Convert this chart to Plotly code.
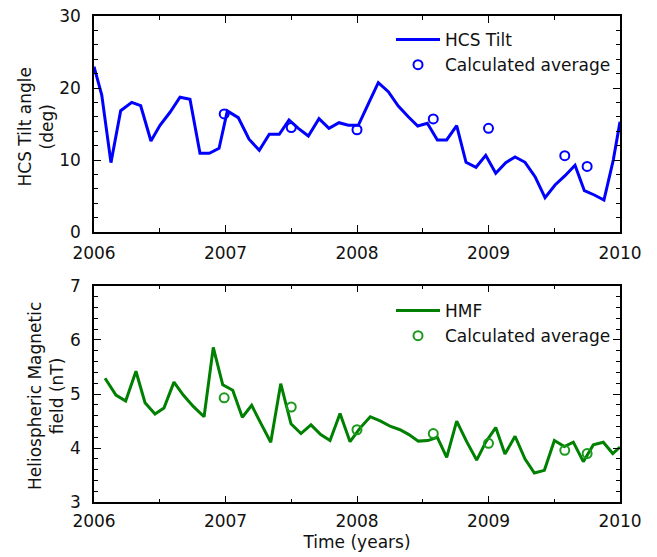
import plotly.graph_objects as go

# --- HCS tilt angle (deg), per solar rotation ---
tilt_years = [
    2006.000, 2006.059, 2006.129, 2006.203, 2006.287, 2006.355, 2006.433, 2006.502,
    2006.578, 2006.654, 2006.730, 2006.806, 2006.877, 2006.951, 2007.014, 2007.097,
    2007.179, 2007.257, 2007.333, 2007.409, 2007.483, 2007.554, 2007.630, 2007.711,
    2007.787, 2007.863, 2007.934, 2008.010, 2008.086, 2008.162, 2008.238, 2008.314,
    2008.390, 2008.462, 2008.535, 2008.611, 2008.682, 2008.758, 2008.829, 2008.905,
    2008.979, 2009.055, 2009.131, 2009.202, 2009.278, 2009.354, 2009.430, 2009.506,
    2009.582, 2009.658, 2009.729, 2009.805, 2009.878, 2009.949, 2010.000,
]
tilt_deg = [
    22.96, 19.03, 9.63, 16.85, 18.01, 17.54, 12.64, 14.82,
    16.63, 18.71, 18.43, 10.93, 10.93, 11.63, 16.81, 15.88,
    12.88, 11.35, 13.57, 13.57, 15.56, 14.40, 13.33, 15.74,
    14.40, 15.18, 14.82, 14.82, 17.78, 20.74, 19.49, 17.50,
    16.01, 14.72, 15.10, 12.78, 12.78, 14.76, 9.68, 8.99,
    10.65, 8.15, 9.63, 10.42, 9.68, 7.68, 4.76, 6.53,
    7.82, 9.26, 5.74, 5.14, 4.44, 10.00, 15.32,
]
tilt_avg_years = [2006.99, 2007.50, 2008.00, 2008.58, 2009.00, 2009.58, 2009.75]
tilt_avg_deg = [16.4, 14.5, 14.2, 15.7, 14.4, 10.6, 9.1]

# --- Heliospheric magnetic field (nT) ---
hmf_years = [
    2006.084, 2006.167, 2006.241, 2006.319, 2006.388, 2006.464, 2006.532, 2006.608,
    2006.679, 2006.755, 2006.837, 2006.907, 2006.979, 2007.055, 2007.128, 2007.199,
    2007.275, 2007.344, 2007.420, 2007.498, 2007.574, 2007.650, 2007.724, 2007.795,
    2007.871, 2007.947, 2008.023, 2008.101, 2008.180, 2008.256, 2008.327, 2008.395,
    2008.466, 2008.538, 2008.611, 2008.682, 2008.758, 2008.834, 2008.910, 2008.981,
    2009.055, 2009.125, 2009.202, 2009.278, 2009.349, 2009.425, 2009.501, 2009.577,
    2009.645, 2009.721, 2009.797, 2009.873, 2009.945, 2010.000,
]
hmf_nt = [
    5.29, 4.98, 4.87, 5.42, 4.84, 4.63, 4.74, 5.22,
    4.98, 4.77, 4.58, 5.86, 5.17, 5.07, 4.57, 4.79,
    4.43, 4.11, 5.19, 4.45, 4.27, 4.43, 4.25, 4.14,
    4.64, 4.12, 4.37, 4.58, 4.50, 4.40, 4.34, 4.25,
    4.13, 4.14, 4.20, 3.83, 4.50, 4.12, 3.78, 4.12,
    4.38, 3.89, 4.22, 3.80, 3.54, 3.59, 4.14, 4.03,
    4.11, 3.75, 4.06, 4.11, 3.90, 4.02,
]
hmf_avg_years = [2006.99, 2007.50, 2008.00, 2008.58, 2009.00, 2009.58, 2009.75]
hmf_avg_nt = [4.93, 4.76, 4.34, 4.27, 4.09, 3.96, 3.90]

year_ticks = [2006, 2007, 2008, 2009, 2010]

BLUE = "#0000ff"
GREEN = "#008000"
FONT = dict(family="DejaVu Sans", size=17, color="#111111")
W, H = 657, 557

fig = go.Figure()

fig.add_trace(go.Scatter(
    x=tilt_years, y=tilt_deg, mode="lines", name="HCS Tilt",
    line=dict(color=BLUE, width=3), xaxis="x", yaxis="y", legend="legend",
))
fig.add_trace(go.Scatter(
    x=tilt_avg_years, y=tilt_avg_deg, mode="markers", name="Calculated average",
    marker=dict(symbol="circle-open", size=9, color=BLUE, line=dict(width=2, color=BLUE)),
    xaxis="x", yaxis="y", legend="legend",
))
fig.add_trace(go.Scatter(
    x=hmf_years, y=hmf_nt, mode="lines", name="HMF",
    line=dict(color=GREEN, width=3), xaxis="x2", yaxis="y2", legend="legend2",
))
fig.add_trace(go.Scatter(
    x=hmf_avg_years, y=hmf_avg_nt, mode="markers", name="Calculated average",
    marker=dict(symbol="circle-open", size=9, color="#1a9a1a", line=dict(width=2, color="#1a9a1a")),
    xaxis="x2", yaxis="y2", legend="legend2",
))

x_dom = [94 / W, 620 / W]
top_dom = [1 - 232 / H, 1 - 16 / H]
bot_dom = [1 - 502.3 / H, 1 - 285.7 / H]

axis_common = dict(
    showline=True, linecolor="black", linewidth=1.5, mirror="ticks",
    ticks="inside", ticklen=7, tickwidth=1, tickcolor="black",
    showgrid=False, zeroline=False, tickfont=FONT, automargin=False,
)

fig.update_layout(
    width=W, height=H,
    margin=dict(l=0, r=0, t=0, b=0, autoexpand=False),
    paper_bgcolor="white", plot_bgcolor="white",
    font=FONT,
    xaxis=dict(domain=x_dom, anchor="y", range=[2006, 2010], tickvals=year_ticks,
               minor=dict(dtick=0.5, ticklen=4, tickcolor="black", ticks="inside"),
               ticklabelstandoff=5, **axis_common),
    yaxis=dict(domain=top_dom, anchor="x", range=[0, 30], dtick=10,
               minor=dict(dtick=2, ticklen=4, tickcolor="black", ticks="inside"),
               ticklabelstandoff=8, **axis_common),
    xaxis2=dict(domain=x_dom, anchor="y2", range=[2006, 2010], tickvals=year_ticks,
                minor=dict(dtick=0.5, ticklen=4, tickcolor="black", ticks="inside"),
                ticklabelstandoff=3,
                title=dict(text="Time (years)", font=FONT, standoff=6),
                **axis_common),
    yaxis2=dict(domain=bot_dom, anchor="x2", range=[3, 7], dtick=1,
                minor=dict(dtick=0.2, ticklen=4, tickcolor="black", ticks="inside"),
                ticklabelstandoff=8, **axis_common),
    legend=dict(x=391 / W, y=1 - 22 / H, xanchor="left", yanchor="top",
                bgcolor="rgba(0,0,0,0)", font=FONT, itemwidth=44, tracegroupgap=0),
    legend2=dict(x=391 / W, y=1 - 293 / H, xanchor="left", yanchor="top",
                 bgcolor="rgba(0,0,0,0)", font=FONT, itemwidth=44, tracegroupgap=0),
    showlegend=True,
    annotations=[
        dict(text="HCS Tilt angle<br>(deg)", x=35 / W, y=1 - 127.5 / H,
             xref="paper", yref="paper", textangle=-90, showarrow=False,
             xanchor="center", yanchor="middle", font=FONT),
        dict(text="Heliospheric Magnetic<br>field (nT)", x=46 / W, y=1 - 396 / H,
             xref="paper", yref="paper", textangle=-90, showarrow=False,
             xanchor="center", yanchor="middle", font=FONT),
    ],
)

fig.write_html("out.html")
